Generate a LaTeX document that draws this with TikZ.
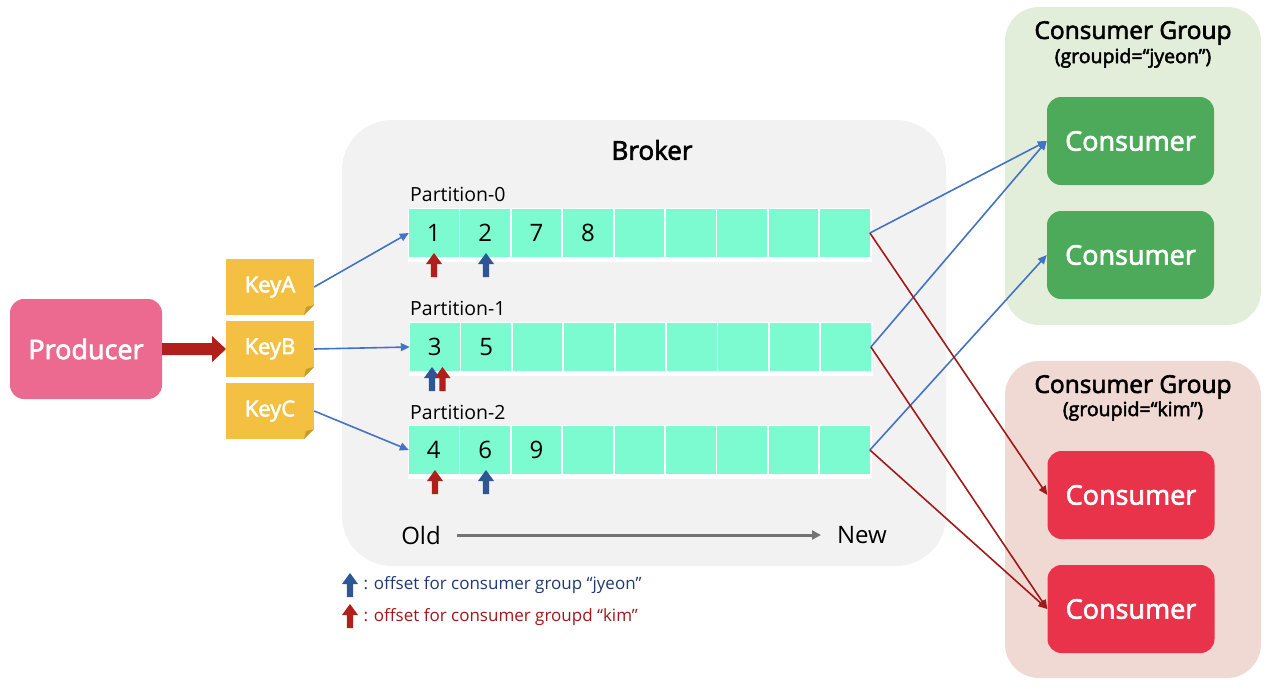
\documentclass[tikz,border=0pt]{standalone}
\usepackage{fontspec}
\setmainfont{Open Sans}
\newfontfamily\medfont[FakeBold=2.5]{Open Sans}
\usetikzlibrary{arrows.meta}
\definecolor{prodc}{HTML}{EC6A8F}
\definecolor{keyc}{HTML}{F4C042}
\definecolor{keyfold}{HTML}{C99A2E}
\definecolor{brokc}{HTML}{F2F2F2}
\definecolor{cellc}{HTML}{7DFBD0}
\definecolor{grpg}{HTML}{E3EEDA}
\definecolor{grpr}{HTML}{F0D9D3}
\definecolor{consg}{HTML}{4DAA5A}
\definecolor{consr}{HTML}{E8334A}
\definecolor{bluel}{HTML}{4472C4}
\definecolor{redl}{HTML}{A01A1A}
\definecolor{offb}{HTML}{2F5597}
\definecolor{offr}{HTML}{B01F1A}
\definecolor{legb}{HTML}{1F3A73}
\definecolor{legr}{HTML}{A01818}
\newcommand\fsz[1]{\fontsize{#1}{#1}\selectfont}
\newcommand\offarrow[3]{% x, ybottom, color
  \fill[#3] (#1-3.2,#2) -- (#1-3.2,#2-13) -- (#1-8,#2-13) -- (#1,#2-24) -- (#1+8,#2-13) -- (#1+3.2,#2-13) -- (#1+3.2,#2) -- cycle;}
\begin{document}
\begin{tikzpicture}[x=1pt,y=-1pt,
  prodbox/.style={fill=prodc,rounded corners=14pt,minimum width=152pt,minimum height=100pt,text=white,font=\medfont\fsz{27}},
  keybox/.style={fill=keyc,minimum width=88pt,minimum height=56pt,text=white,font=\medfont\fsz{22}},
  cell/.style={fill=cellc,minimum width=49.5pt,minimum height=48pt,inner sep=0pt,font=\fsz{23}},
  grpbox/.style={rounded corners=34pt},
  consbox/.style={rounded corners=14pt,minimum width=167pt,minimum height=88pt,text=white,font=\medfont\fsz{27}},
  blink/.style={bluel,line width=1.6pt,-{Triangle[length=9pt,width=8pt]}},
  rdlink/.style={redl,line width=1.6pt,-{Triangle[length=9pt,width=8pt]}},
  plabel/.style={anchor=west,inner sep=0pt,font=\fsz{19.5}}
]
\useasboundingbox (0,0) rectangle (1280,691);
% broker
\fill[brokc,rounded corners=50pt] (342,120) rectangle (946,566);
\node[font=\medfont\fsz{26}] (broker) at (652,150) {Broker};
% groups
\fill[grpg,grpbox] (1005,7) rectangle (1261,325);
\fill[grpr,grpbox] (1005,361) rectangle (1261,678);
\node[font=\medfont\fsz{24.5}] (gt1) at (1133,33) {Consumer Group};
\node[font=\medfont\fsz{19.5}] (gs1) at (1133,58) {(groupid=“jyeon”)};
\node[font=\medfont\fsz{24.5}] (gt2) at (1133,387) {Consumer Group};
\node[font=\medfont\fsz{19.5}] (gs2) at (1133,411) {(groupid=“kim”)};
\node[consbox,fill=consg] (g1) at (1130.5,141) {Consumer};
\node[consbox,fill=consg] (g2) at (1130.5,255) {Consumer};
\node[consbox,fill=consr] (k1) at (1131,495) {Consumer};
\node[consbox,fill=consr] (k2) at (1131,609) {Consumer};
% producer
\node[prodbox] (prod) at (86,349) {Producer};
\fill[offr] (prod.east) ++(0,6) -- ++(50,0) -- ++(0,7) -- (226,349) -- (212,336) -- ++(0,7) -- (162,343) -- cycle;
% keys
\foreach \n/\y/\t in {ka/287/KeyA,kb/349/KeyB,kc/411/KeyC}{
  \node[keybox] (\n) at (270,\y) {\t};
  \fill[white] (314,\y+28) -- (304,\y+28) -- (314,\y+18) -- cycle;
  \fill[keyfold] (304,\y+28) -- (314,\y+18) -- (306,\y+20) -- cycle;
}
% partitions
\node[plabel] (p0) at (410,194) {Partition-0};
\node[plabel] (p1) at (410,308) {Partition-1};
\node[plabel] (p2) at (410,412) {Partition-2};
\foreach \r/\x/\y in {0/409/233,1/410/347,2/409/450}{
  \fill[white] (\x-1.5,\y-25.5) rectangle (\x+462.5,\y+29);
  \foreach \i in {1,...,9}{
    \node[cell] (c\r\i) at ({\x+24.75+(\i-1)*51.4},\y) {};
  }
}
\foreach \r/\i/\t in {0/1/1,0/2/2,0/3/7,0/4/8,1/1/3,1/2/5,2/1/4,2/2/6,2/3/9}{
  \node[font=\fsz{24}] at (c\r\i) {\t};
}
% offset arrows
\offarrow{434}{277}{offr}
\offarrow{486}{277}{offb}
\offarrow{432}{391}{offb}
\offarrow{442.5}{391}{offr}
\offarrow{435}{494}{offr}
\offarrow{486}{494}{offb}
% old new
\node[font=\fsz{24}] (old) at (421,535) {Old};
\node[font=\fsz{24}] (new) at (862,535) {New};
\draw[gray!90!black,line width=3pt,-{Triangle[length=9pt,width=9pt]}] (457,535) -- (821,535);
% legend
\offarrow{350}{597}{offb}
\offarrow{350}{628}{offr}
\node[anchor=west,font=\fsz{17},text=legb] (lb) at (360,585) {: offset for consumer group “jyeon”};
\node[anchor=west,font=\fsz{17},text=legr] (lr) at (360,617) {: offset for consumer groupd “kim”};
% links
\draw[blink] (ka.east) -- (c01.west);
\draw[blink] (kb.east) -- (c11.west);
\draw[blink] (kc.east) -- (c21.west);
\draw[blink] (c09.east) -- (g1.west);
\draw[blink] (c19.east) -- (g1.west);
\draw[blink] (c29.east) -- (g2.west);
\draw[rdlink] (c09.east) -- (k1.west);
\draw[rdlink] (c19.east) -- (k2.west);
\draw[rdlink] (c29.east) -- (k2.west);
\end{tikzpicture}
\end{document}
